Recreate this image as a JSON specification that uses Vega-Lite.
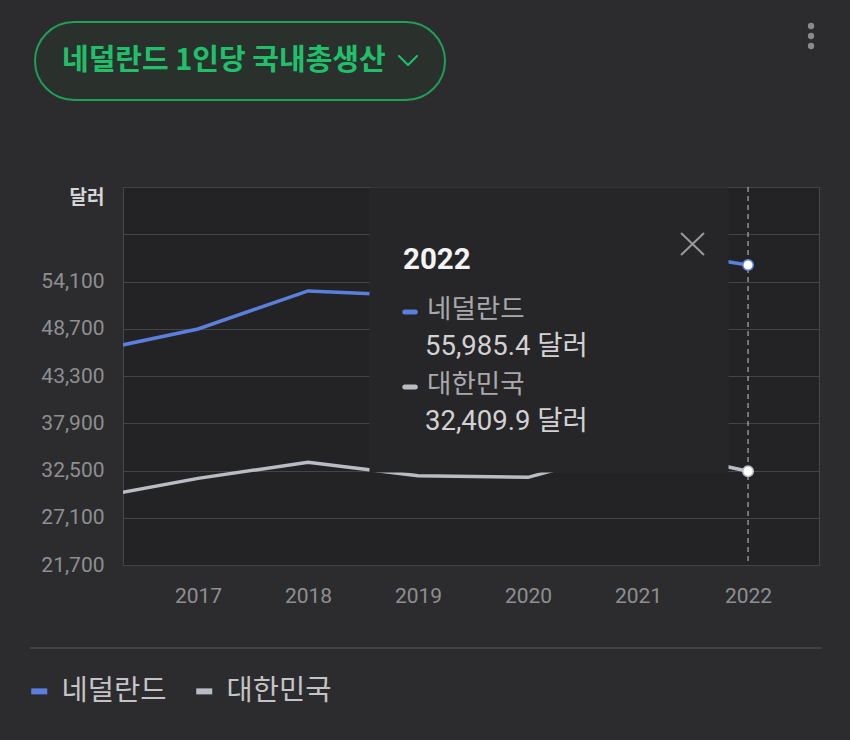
{
  "$schema": "https://vega.github.io/schema/vega-lite/v6.json",
  "width": 696,
  "height": 378,
  "autosize": {"type": "none"},
  "padding": {"left": 123, "top": 187, "right": 31, "bottom": 175},
  "background": "#2c2c2e",
  "config": {
    "view": {"fill": "#232325", "stroke": "#474749", "strokeWidth": 1},
    "axis": {"domain": false, "ticks": false, "labelColor": "#8f8f92", "labelFont": "Roboto, Noto Sans CJK KR", "labelFontSize": 21},
    "text": {"font": "Roboto, Noto Sans CJK KR"}
  },
  "data": {
    "values": [
      {"year": 2016, "country": "네덜란드", "gdp": 46007},
      {"year": 2017, "country": "네덜란드", "gdp": 48676},
      {"year": 2018, "country": "네덜란드", "gdp": 53024},
      {"year": 2019, "country": "네덜란드", "gdp": 52476},
      {"year": 2020, "country": "네덜란드", "gdp": 52397},
      {"year": 2021, "country": "네덜란드", "gdp": 58000},
      {"year": 2022, "country": "네덜란드", "gdp": 55985.4},
      {"year": 2016, "country": "대한민국", "gdp": 29289},
      {"year": 2017, "country": "대한민국", "gdp": 31601},
      {"year": 2018, "country": "대한민국", "gdp": 33447},
      {"year": 2019, "country": "대한민국", "gdp": 31902},
      {"year": 2020, "country": "대한민국", "gdp": 31721},
      {"year": 2021, "country": "대한민국", "gdp": 35142},
      {"year": 2022, "country": "대한민국", "gdp": 32409.9}
    ]
  },
  "layer": [
    {
      "mark": {"type": "line", "strokeWidth": 3.5, "clip": true},
      "encoding": {
        "x": {"field": "year", "type": "quantitative", "scale": {"domain": [2016.318, 2022.645], "nice": false, "zero": false},
              "axis": {"values": [2017, 2018, 2019, 2020, 2021, 2022], "format": "d", "grid": false, "title": null, "labelPadding": 20}},
        "y": {"field": "gdp", "type": "quantitative", "scale": {"domain": [21700, 64900], "nice": false, "zero": false},
              "axis": {"values": [21700, 27100, 32500, 37900, 43300, 48700, 54100, 59500, 64900], "labelExpr": "datum.value > 55000 ? '' : format(datum.value, ',')",
                       "grid": true, "gridColor": "#444446", "gridWidth": 1, "labelPadding": 19,
                       "title": "달러", "titleAngle": 0, "titleAlign": "right", "titleBaseline": "middle", "titleX": -19, "titleY": 10,
                       "titleColor": "#d6d6d8", "titleFontSize": 19, "titleFontWeight": "bold", "titleFont": "Noto Sans CJK KR"}},
        "color": {"field": "country", "type": "nominal",
                  "scale": {"domain": ["네덜란드", "대한민국"], "range": ["#5b7fdd", "#b9bcc4"]},
                  "legend": {"orient": "none", "legendX": -98, "legendY": 490, "direction": "horizontal", "title": null,
                             "symbolType": "stroke", "symbolStrokeWidth": 6, "symbolSize": 256, "labelFontSize": 28.5,
                             "labelColor": "#c4c4c6", "labelFont": "Noto Sans CJK KR", "labelOffset": 8, "columnPadding": 17}}
      }
    },
    {
      "data": {"values": [{}]},
      "mark": {"type": "rule", "color": "#c8c8ca", "strokeDash": [5, 4], "strokeWidth": 1},
      "encoding": {"x": {"datum": 2022}}
    },
    {
      "transform": [{"filter": "datum.year == 2022"}],
      "mark": {"type": "circle", "fill": "#ffffff", "opacity": 1, "size": 110, "strokeWidth": 1.5},
      "encoding": {
        "x": {"field": "year", "type": "quantitative"},
        "y": {"field": "gdp", "type": "quantitative"},
        "stroke": {"field": "country", "type": "nominal", "scale": {"domain": ["네덜란드", "대한민국"], "range": ["#5b7fdd", "#b9bcc4"]}, "legend": null}
      }
    },
    {
      "data": {"values": [{}]},
      "mark": {"type": "rect", "fill": "#262628", "stroke": "#2a2a2c"},
      "encoding": {"x": {"datum": 2018.563}, "x2": {"datum": 2021.818}, "y": {"datum": 32329}, "y2": {"datum": 64790}}
    },
    {
      "data": {"values": [{}]},
      "mark": {"type": "text", "text": "2022", "align": "left", "baseline": "middle", "fontSize": 29.5, "fontWeight": "bold", "color": "#f4f4f4"},
      "encoding": {"x": {"datum": 2018.8635}, "y": {"datum": 56557}}
    },
    {
      "data": {"values": [{}]},
      "mark": {"type": "rule", "color": "#5b7fdd", "strokeWidth": 5, "strokeCap": "round"},
      "encoding": {"x": {"datum": 2018.88}, "x2": {"datum": 2018.975}, "y": {"datum": 50614}}
    },
    {
      "data": {"values": [{}]},
      "mark": {"type": "text", "text": "네덜란드", "align": "left", "baseline": "middle", "fontSize": 26.5, "color": "#a9a9ac", "font": "Noto Sans CJK KR"},
      "encoding": {"x": {"datum": 2019.0817}, "y": {"datum": 50843}}
    },
    {
      "data": {"values": [{}]},
      "mark": {"type": "text", "text": "55,985.4 달러", "align": "left", "baseline": "middle", "fontSize": 27.5, "color": "#d2d2d4"},
      "encoding": {"x": {"datum": 2019.0635}, "y": {"datum": 46614}}
    },
    {
      "data": {"values": [{}]},
      "mark": {"type": "rule", "color": "#b9bcc4", "strokeWidth": 5, "strokeCap": "round"},
      "encoding": {"x": {"datum": 2018.88}, "x2": {"datum": 2018.975}, "y": {"datum": 42043}}
    },
    {
      "data": {"values": [{}]},
      "mark": {"type": "text", "text": "대한민국", "align": "left", "baseline": "middle", "fontSize": 26.5, "color": "#a9a9ac", "font": "Noto Sans CJK KR"},
      "encoding": {"x": {"datum": 2019.0817}, "y": {"datum": 42271}}
    },
    {
      "data": {"values": [{}]},
      "mark": {"type": "text", "text": "32,409.9 달러", "align": "left", "baseline": "middle", "fontSize": 27.5, "color": "#d2d2d4"},
      "encoding": {"x": {"datum": 2019.0635}, "y": {"datum": 38043}}
    },
    {
      "data": {"values": [{}]},
      "mark": {"type": "rule", "color": "#9a9a9c", "strokeWidth": 2},
      "encoding": {"x": {"datum": 2021.3907}, "x2": {"datum": 2021.5998}, "y": {"datum": 59643}, "y2": {"datum": 57129}}
    },
    {
      "data": {"values": [{}]},
      "mark": {"type": "rule", "color": "#9a9a9c", "strokeWidth": 2},
      "encoding": {"x": {"datum": 2021.5998}, "x2": {"datum": 2021.3907}, "y": {"datum": 59643}, "y2": {"datum": 57129}}
    },
    {
      "data": {"values": [{}]},
      "mark": {"type": "rect", "fill": "#2a312d", "stroke": "#1f9f59", "strokeWidth": 2, "cornerRadius": 39},
      "encoding": {"x": {"datum": 2015.518}, "x2": {"datum": 2019.2453}, "y": {"datum": 74843}, "y2": {"datum": 83757}}
    },
    {
      "data": {"values": [{}]},
      "mark": {"type": "text", "text": "네덜란드 1인당 국내총생산", "align": "left", "baseline": "middle", "fontSize": 29, "fontWeight": "bold", "color": "#20c06b", "font": "Noto Sans CJK KR"},
      "encoding": {"x": {"datum": 2015.763}, "y": {"datum": 79300}}
    },
    {
      "data": {"values": [{}]},
      "mark": {"type": "rule", "color": "#20c06b", "strokeWidth": 2, "strokeCap": "round"},
      "encoding": {"x": {"datum": 2018.827}, "x2": {"datum": 2018.909}, "y": {"datum": 79871}, "y2": {"datum": 78843}}
    },
    {
      "data": {"values": [{}]},
      "mark": {"type": "rule", "color": "#20c06b", "strokeWidth": 2, "strokeCap": "round"},
      "encoding": {"x": {"datum": 2018.909}, "x2": {"datum": 2018.991}, "y": {"datum": 78843}, "y2": {"datum": 79871}}
    },
    {
      "data": {"values": [{}]},
      "mark": {"type": "circle", "color": "#8a8a8c", "opacity": 1, "size": 40},
      "encoding": {"x": {"datum": 2022.5727}, "y": {"datum": 83300}}
    },
    {
      "data": {"values": [{}]},
      "mark": {"type": "circle", "color": "#8a8a8c", "opacity": 1, "size": 40},
      "encoding": {"x": {"datum": 2022.5727}, "y": {"datum": 82157}}
    },
    {
      "data": {"values": [{}]},
      "mark": {"type": "circle", "color": "#8a8a8c", "opacity": 1, "size": 40},
      "encoding": {"x": {"datum": 2022.5727}, "y": {"datum": 81014}}
    },
    {
      "data": {"values": [{}]},
      "mark": {"type": "rule", "color": "#48484a", "strokeWidth": 1.5},
      "encoding": {"x": {"datum": 2015.4725}, "x2": {"datum": 2022.6725}, "y": {"datum": 12214}}
    }
  ]
}
